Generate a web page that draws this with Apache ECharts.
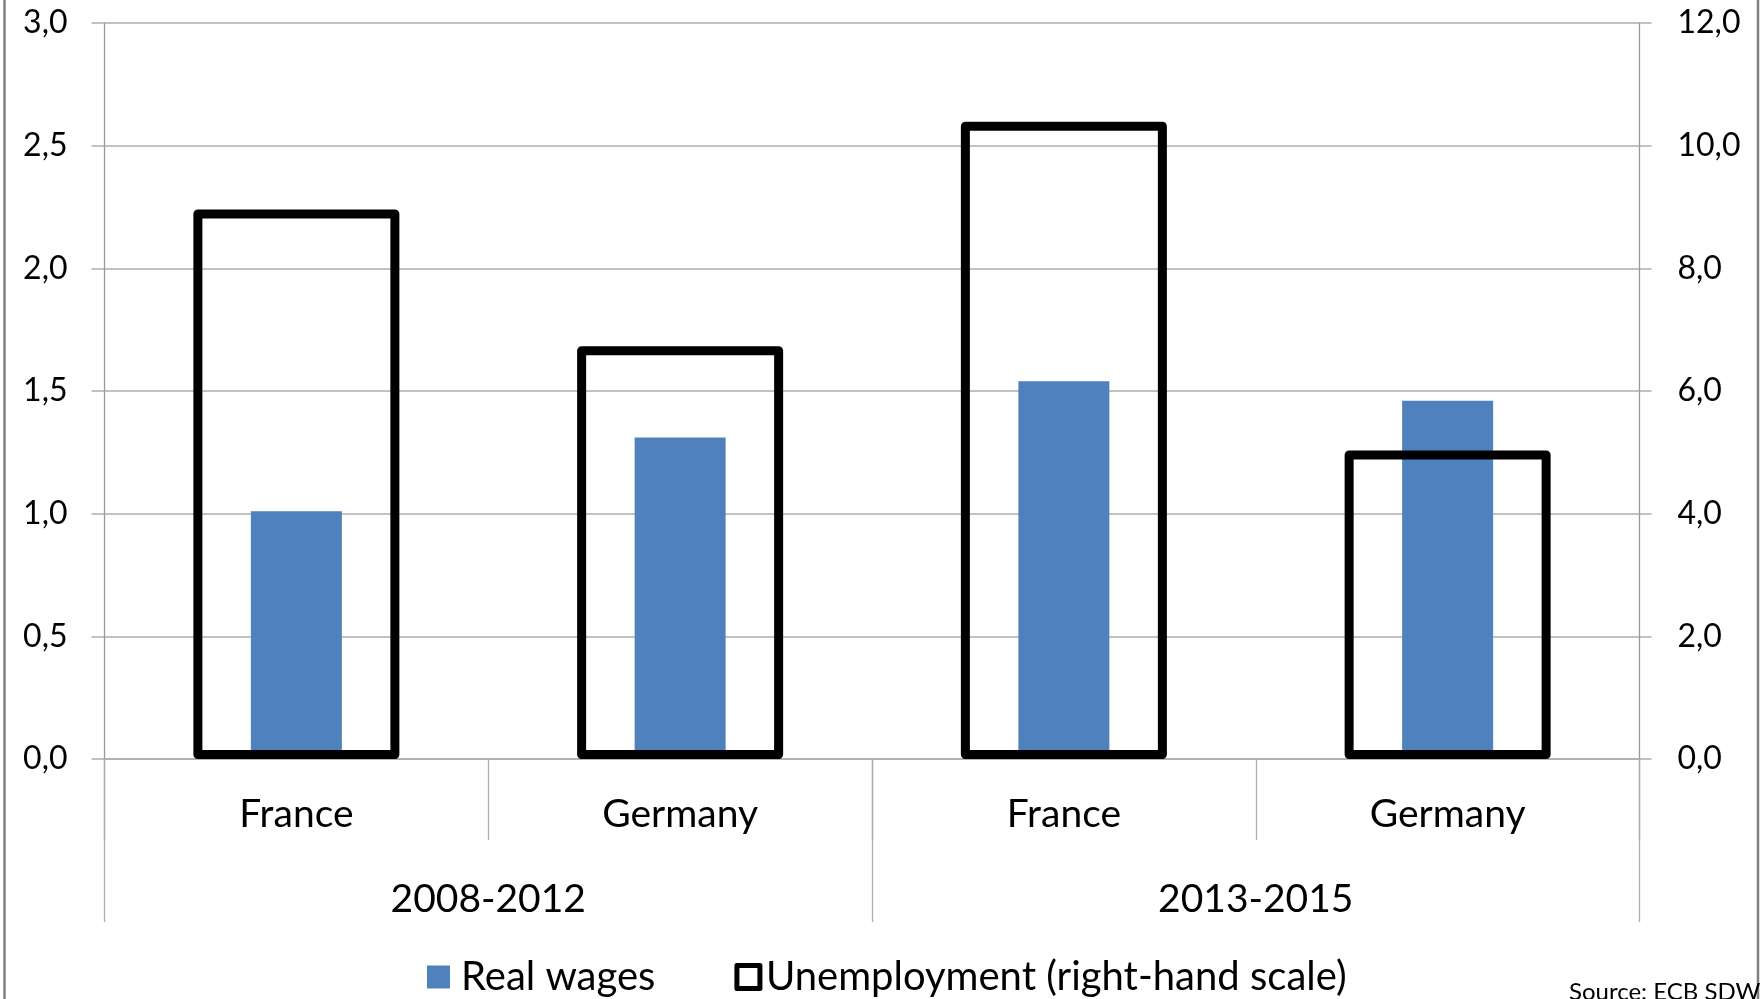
<!DOCTYPE html>
<html>
<head>
<meta charset="utf-8">
<script src="https://cdn.jsdelivr.net/npm/echarts@6/dist/echarts.min.js"></script>
<style>
  html, body { margin: 0; padding: 0; background: #fff; }
  #chart { width: 1763px; height: 999px; }
</style>
</head>
<body>
<div id="chart"></div>
<script>
// Countries per period, periods, and the two measured series
const categories = ['France', 'Germany', 'France', 'Germany'];
const periods = ['2008-2012', '2013-2015'];
const realWages = [1.01, 1.31, 1.54, 1.46];
const unemployment = [8.96, 6.73, 10.39, 5.03];

// Axis tick labels (comma decimal separator)
const leftTickLabels = ['0,0', '0,5', '1,0', '1,5', '2,0', '2,5', '3,0'];
const rightTickLabels = ['0,0', '2,0', '4,0', '6,0', '8,0', '10,0', '12,0'];

const FONT = 'Lato';
const GRID_COLOR = '#ADADAD';
const AXIS_COLOR = '#999999';

const chart = echarts.init(document.getElementById('chart'), null, { renderer: 'canvas' });

const option = {
  backgroundColor: '#ffffff',
  animation: false,
  textStyle: { fontFamily: FONT, color: '#000' },
  grid: { left: 104.5, right: 123.5, top: 23, bottom: 240, containLabel: false },
  legend: {
    left: 427,
    top: 957,
    padding: 0,
    itemWidth: 23,
    itemHeight: 23,
    itemGap: 79,
    textStyle: { fontFamily: FONT, fontSize: 40, color: '#000', padding: [0, 0, 0, 6] },
    data: [
      { name: 'Real wages', icon: 'rect', itemStyle: { color: '#4F81BD', borderWidth: 0 } },
      { name: 'Unemployment (right-hand scale)', icon: 'rect',
        textStyle: { padding: [0, 0, 0, 1] },
        itemStyle: { color: '#ffffff', borderColor: '#000', borderWidth: 5, borderJoin: 'round' } }
    ]
  },
  xAxis: [
    {
      type: 'category',
      data: categories,
      position: 'bottom',
      offset: 0,
      boundaryGap: true,
      axisLine: { show: true, lineStyle: { color: GRID_COLOR, width: 1.5 } },
      axisTick: { show: true, length: 81, lineStyle: { color: GRID_COLOR, width: 1.3 } },
      axisLabel: { margin: 36, fontFamily: FONT, fontSize: 39, color: '#000' },
      splitLine: { show: false }
    },
    {
      type: 'category',
      data: categories,
      show: false
    },
    {
      type: 'category',
      data: periods,
      position: 'bottom',
      offset: 0,
      boundaryGap: true,
      axisLine: { show: false },
      axisTick: { show: true, length: 163, lineStyle: { color: GRID_COLOR, width: 1.3 } },
      axisLabel: { margin: 121, fontFamily: FONT, fontSize: 39, color: '#000' },
      splitLine: { show: false }
    }
  ],
  yAxis: [
    {
      type: 'value',
      min: 0, max: 3, interval: 0.5,
      position: 'left',
      axisLine: { show: true, lineStyle: { color: AXIS_COLOR, width: 1.3 } },
      axisTick: { show: true, length: 13, lineStyle: { color: GRID_COLOR, width: 1.5 } },
      axisLabel: {
        margin: 37, fontFamily: FONT, fontSize: 32, color: '#000',
        formatter: v => leftTickLabels[Math.round(v / 0.5)]
      },
      splitLine: { show: true, lineStyle: { color: GRID_COLOR, width: 1.5 } }
    },
    {
      type: 'value',
      min: 0, max: 12, interval: 2,
      position: 'right',
      axisLine: { show: true, lineStyle: { color: AXIS_COLOR, width: 1.3 } },
      axisTick: { show: true, length: 12, lineStyle: { color: GRID_COLOR, width: 1.5 } },
      axisLabel: {
        margin: 38, fontFamily: FONT, fontSize: 32, color: '#000',
        formatter: v => rightTickLabels[Math.round(v / 2)]
      },
      splitLine: { show: false }
    }
  ],
  series: [
    {
      name: 'Real wages',
      type: 'bar',
      xAxisIndex: 0,
      yAxisIndex: 0,
      barWidth: 91,
      data: realWages,
      itemStyle: { color: '#4F81BD' },
      z: 2
    },
    {
      name: 'Unemployment (right-hand scale)',
      type: 'bar',
      xAxisIndex: 1,
      yAxisIndex: 1,
      barWidth: 206,
      data: unemployment,
      itemStyle: {
        color: 'rgba(0,0,0,0)',
        borderColor: '#000',
        borderWidth: 9,
        borderJoin: 'round'
      },
      z: 3
    }
  ],
  graphic: [
    {
      type: 'line',
      shape: { x1: 4.5, y1: 0, x2: 4.5, y2: 999 },
      style: { stroke: '#7F7F7F', lineWidth: 2.5 },
      silent: true
    },
    {
      type: 'line',
      shape: { x1: 1758, y1: 0, x2: 1758, y2: 999 },
      style: { stroke: '#7F7F7F', lineWidth: 2.5 },
      silent: true
    },
    {
      type: 'text',
      left: 1569,
      top: 980,
      style: { text: 'Source: ECB SDW', font: '24px ' + FONT, fill: '#000' },
      silent: true
    }
  ]
};

chart.setOption(option);
</script>
</body>
</html>
